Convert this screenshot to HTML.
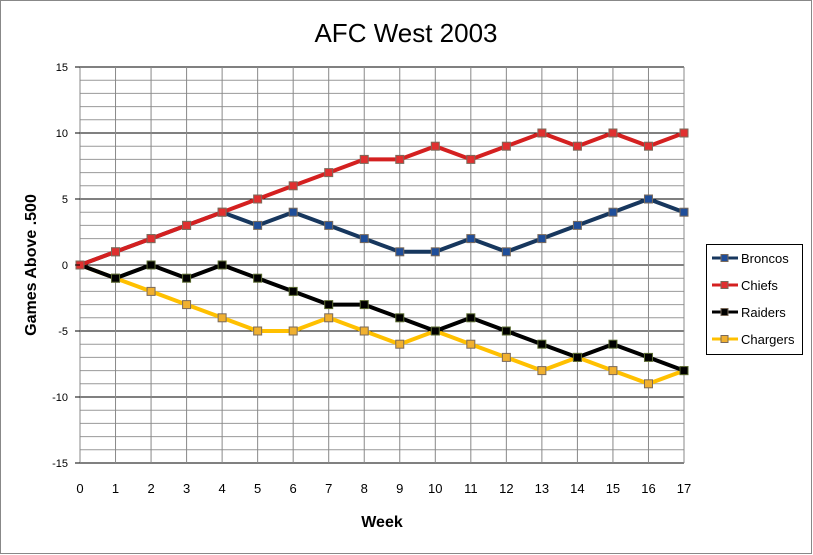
<!DOCTYPE html>
<html><head><meta charset="utf-8"><style>
body{margin:0;background:#fff;}
svg{display:block;font-family:"Liberation Sans",Calibri,sans-serif;}
</style></head><body>
<svg id="chart" width="813" height="555">
<rect x="0.5" y="0.5" width="811" height="553" fill="#fff" stroke="#888"/>
<text x="406" y="42" font-size="26" text-anchor="middle">AFC West 2003</text>
<g id="grid"></g><g id="series"></g><g id="axes"></g>
<text x="382" y="527" font-size="16" font-weight="bold" text-anchor="middle">Week</text>
<text transform="translate(36,265) rotate(-90)" font-size="16" font-weight="bold" text-anchor="middle">Games Above .500</text>
<g id="legend"></g>
</svg>
<script>
const weeks=[0,1,2,3,4,5,6,7,8,9,10,11,12,13,14,15,16,17];
const broncos=[0,1,2,3,4,3,4,3,2,1,1,2,1,2,3,4,5,4];
const chiefs=[0,1,2,3,4,5,6,7,8,8,9,8,9,10,9,10,9,10];
const raiders=[0,-1,0,-1,0,-1,-2,-3,-3,-4,-5,-4,-5,-6,-7,-6,-7,-8];
const chargers=[0,-1,-2,-3,-4,-5,-5,-4,-5,-6,-5,-6,-7,-8,-7,-8,-9,-8];
const yTicks=[15,10,5,0,-5,-10,-15];
const seriesNames=["Broncos","Chiefs","Raiders","Chargers"];
const NS="http://www.w3.org/2000/svg";
const L=80,R=684,T=67,B=463;
const x=w=>L+(w-0)/17*(R-L);
const y=v=>T+(15-v)/30*(B-T);
function mk(tag,attrs,parent){const e=document.createElementNS(NS,tag);for(const k in attrs)e.setAttribute(k,attrs[k]);parent.appendChild(e);return e;}
const grid=document.getElementById('grid');
for(let v=-15;v<=15;v++){
  const l=mk('line',{x1:L,x2:R,y1:y(v),y2:y(v),stroke:v%5===0?'#000':'#999','stroke-width':1},grid);
  
  
}
weeks.forEach(w=>{
  const l=mk('line',{x1:x(w),x2:x(w),y1:T,y2:B,stroke:'#888','stroke-width':1},grid);
  
  
});
const axes=document.getElementById('axes');
yTicks.forEach(v=>{
  const t=mk('text',{x:68,y:y(v)+4,'font-size':11,'text-anchor':'end'},axes);t.textContent=v;
  
  
  mk('line',{x1:75,x2:L,y1:y(v),y2:y(v),stroke:'#000'},axes);
});
weeks.forEach(w=>{
  const t=mk('text',{x:x(w),y:493,'font-size':13,'text-anchor':'middle'},axes);t.textContent=w;
  
  
});
const cols=[["#17375e","#1f4e9a"],["#d42020","#e03030"],["#000","#000"],["#ffc000","#f0b030"]];
const datas=[broncos,chiefs,raiders,chargers];
const sg=document.getElementById('series');
const order=[0,3,2,1];
order.forEach(i=>{
  const d=datas[i];const g=mk('g',{},sg);
  
  
  const p=mk('polyline',{points:d.map((v,j)=>x(weeks[j])+','+y(v)).join(' '),fill:'none',stroke:cols[i][0],'stroke-width':4,'stroke-linejoin':'round'},g);
  
  
  d.forEach((v,j)=>{
    const m=mk('rect',{x:x(weeks[j])-4,y:y(v)-4,width:8,height:8,fill:cols[i][1],stroke:i===2?'#5a6a30':'#7a6a5a','stroke-width':1},g);
    
    
  });
});
const lg=document.getElementById('legend');
const box=mk('rect',{x:706.5,y:244.5,width:96,height:110,fill:'#fff',stroke:'#000'},lg);


seriesNames.forEach((n,i)=>{
  const yy=258+i*27;
  const g=mk('g',{},lg);
  
  
  mk('line',{x1:712,x2:738,y1:yy,y2:yy,stroke:cols[i][0],'stroke-width':3},g);
  mk('rect',{x:721,y:yy-3.5,width:7,height:7,fill:cols[i][1],stroke:'#7a6a5a'},g);
  const t=mk('text',{x:741,y:yy+5,'font-size':13},g);t.textContent=n;
});
</script>
</body></html>
